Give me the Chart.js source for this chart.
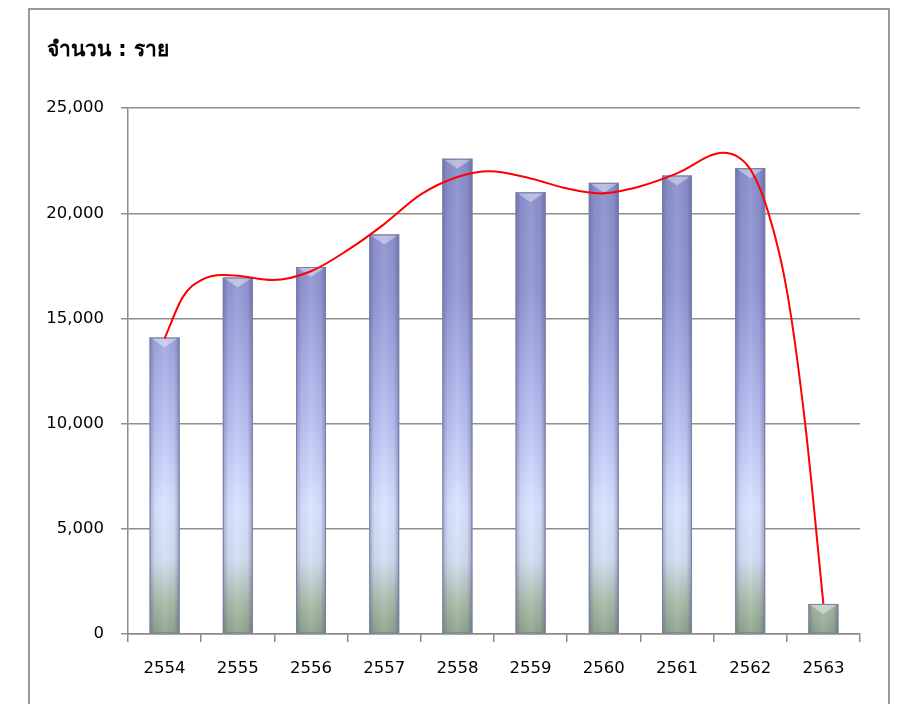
<!DOCTYPE html>
<html>
<head>
<meta charset="utf-8">
<script src="https://cdn.jsdelivr.net/npm/chart.js@4.4.1/dist/chart.umd.min.js"></script>
<style>
  html, body { margin: 0; padding: 0; background: #fff; }
  #frame {
    position: absolute; left: 28px; top: 8px; width: 858px; height: 740px;
    border: 2px solid #9a9a9a; box-sizing: content-box;
  }
  #wrap { position: absolute; left: 0; top: 0; width: 900px; height: 704px; }
</style>
</head>
<body>
<div id="frame"></div>
<div id="wrap"><canvas id="chart" width="900" height="704"></canvas></div>
<script>
// Yearly case count (Thai Buddhist years) with a smoothed red trend curve
const years = ['2554', '2555', '2556', '2557', '2558', '2559', '2560', '2561', '2562', '2563'];
const cases = [14100, 16950, 17450, 19000, 22600, 21000, 21450, 21800, 22150, 1430];
const yTicks = [0, 5000, 10000, 15000, 20000, 25000];

// trend curve, position given as category index
const trendX = [0, 0.25, 0.5, 0.8, 1.0, 1.48, 2.0, 2.5, 3.0, 3.5, 4.0, 4.44, 5.0, 5.5, 5.95, 6.5, 7.0, 7.63, 8.0, 8.25, 8.5, 8.75, 9.0];
const trendValues = [14050, 16030, 16830, 17070, 17030, 16830, 17250, 18250, 19490, 20900, 21730, 22000, 21660, 21180, 20950, 21290, 21900, 22880, 22100, 20010, 16350, 10030, 1430];

const FONT = "'DejaVu Sans', 'Noto Sans', sans-serif";

// one vertical gradient over the whole plot height, like the original fill
function barFill(ctx) {
  const chart = ctx.chart;
  const area = chart.chartArea;
  if (!area) return '#a0a6dc';
  const g = chart.ctx.createLinearGradient(0, area.top, 0, area.bottom);
  g.addColorStop(0, '#8589c6');
  g.addColorStop(0.35, '#9297d4');
  g.addColorStop(0.6, '#b9c1f2');
  g.addColorStop(0.76, '#d9e3ff');
  g.addColorStop(0.86, '#d2ddf0');
  g.addColorStop(0.94, '#a9bba8');
  g.addColorStop(1, '#8da48a');
  return g;
}

// shading on the sides of each bar and the bevel at its top
const barShade = {
  id: 'barShade',
  afterDatasetDraw(chart, args) {
    if (args.meta.type !== 'bar') return;
    const c = chart.ctx;
    args.meta.data.forEach(bar => {
      const left = bar.x - bar.width / 2;
      const w = bar.width;
      const top = bar.y;
      const h = bar.base - bar.y;
      c.save();
      const side = c.createLinearGradient(left, 0, left + w, 0);
      side.addColorStop(0, 'rgba(60,60,110,0.35)');
      side.addColorStop(0.18, 'rgba(60,60,110,0.05)');
      side.addColorStop(0.5, 'rgba(255,255,255,0.08)');
      side.addColorStop(0.82, 'rgba(60,60,110,0.05)');
      side.addColorStop(1, 'rgba(60,60,110,0.4)');
      c.fillStyle = side;
      c.fillRect(left, top, w, h);
      const bh = Math.min(10, h / 2.5);
      c.fillStyle = 'rgba(255,255,255,0.4)';
      c.beginPath();
      c.moveTo(left + 2, top + 1);
      c.lineTo(left + w - 2, top + 1);
      c.lineTo(left + w / 2, top + bh);
      c.closePath();
      c.fill();
      c.strokeStyle = '#7b7fa6';
      c.lineWidth = 1;
      c.strokeRect(left + 0.5, top + 0.5, w - 1, h - 1);
      c.restore();
    });
  }
};

const ctx = document.getElementById('chart').getContext('2d');
new Chart(ctx, {
  type: 'bar',
  data: {
    labels: years,
    datasets: [
      {
        data: cases,
        backgroundColor: barFill,
        borderWidth: 0,
        barPercentage: 0.41,
        categoryPercentage: 1,
        grouped: false,
        order: 1
      },
      {
        type: 'line',
        data: trendX.map((x, i) => ({ x: x, y: trendValues[i] })),
        xAxisID: 'xLine',
        yAxisID: 'y',
        borderColor: '#ff0000',
        borderWidth: 2,
        pointRadius: 0,
        cubicInterpolationMode: 'monotone',
        fill: false,
        order: 0
      }
    ]
  },
  options: {
    responsive: false,
    animation: false,
    layout: { padding: { left: 47, right: 40, top: 0, bottom: 0 } },
    plugins: {
      legend: { display: false },
      tooltip: { enabled: false },
      title: {
        display: true,
        text: 'จำนวน : ราย',
        align: 'start',
        color: '#000',
        font: { family: FONT, size: 21, weight: 'bold' },
        padding: { top: 38, bottom: 45 }
      }
    },
    scales: {
      x: {
        offset: true,
        grid: { display: true, drawOnChartArea: false, drawTicks: true, tickLength: 8, color: '#8c8c8c', lineWidth: 1.5, offset: true },
        border: { color: '#8c8c8c', width: 1.5 },
        ticks: { color: '#000', padding: 17, font: { family: FONT, size: 16.5 } },
        afterFit(scale) { scale.height = 70; }
      },
      xLine: {
        type: 'linear',
        display: false,
        offset: false,
        grid: { offset: false },
        min: -0.5,
        max: 9.5
      },
      y: {
        min: 0,
        max: 25000,
        afterBuildTicks(scale) { scale.ticks = yTicks.map(v => ({ value: v })); },
        grid: { color: '#8e8e8e', lineWidth: 1.5, tickLength: 7 },
        border: { color: '#8c8c8c', width: 1.5 },
        ticks: {
          color: '#000',
          padding: 17,
          font: { family: FONT, size: 16.5 },
          callback: v => v.toLocaleString('en-US')
        },
        afterFit(scale) { scale.width = 81; }
      }
    }
  },
  plugins: [barShade]
});
</script>
</body>
</html>
